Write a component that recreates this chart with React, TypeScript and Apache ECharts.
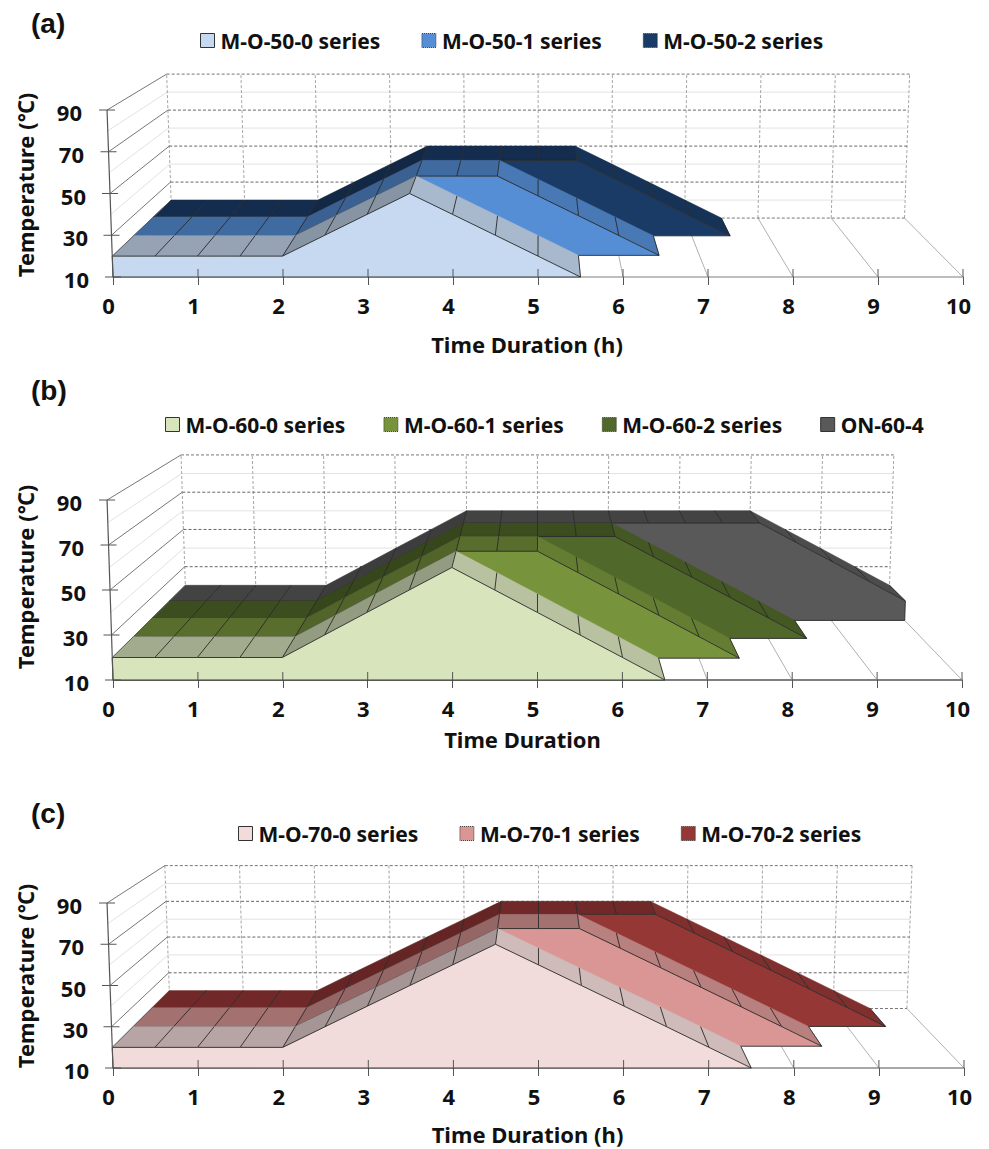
import React, { useEffect, useRef } from "react";
import * as echarts from "echarts";

const xTicks = [0, 1, 2, 3, 4, 5, 6, 7, 8, 9, 10];
const yTicks = [10, 30, 50, 70, 90];
const yMinor = [20, 40, 60, 80];

const timesA0 = [0, 0.5, 1, 1.5, 2, 2.5, 3, 3.5, 4, 4.5, 5, 5.5];
const valuesA0 = [20, 20, 20, 20, 20, 30, 40, 50, 40, 30, 20, 10];
const timesA1 = [0, 0.5, 1, 1.5, 2, 2.5, 3, 3.5, 4, 4.5, 5, 5.5, 6, 6.5];
const valuesA1 = [20, 20, 20, 20, 20, 30, 40, 50, 50, 50, 40, 30, 20, 10];
const timesA2 = [0, 0.5, 1, 1.5, 2, 2.5, 3, 3.5, 4, 4.5, 5, 5.5, 6, 6.5, 7, 7.5];
const valuesA2 = [20, 20, 20, 20, 20, 30, 40, 50, 50, 50, 50, 50, 40, 30, 20, 10];

const timesB0 = [0, 0.5, 1, 1.5, 2, 2.5, 3, 3.5, 4, 4.5, 5, 5.5, 6, 6.5];
const valuesB0 = [20, 20, 20, 20, 20, 30, 40, 50, 60, 50, 40, 30, 20, 10];
const timesB1 = [0, 0.5, 1, 1.5, 2, 2.5, 3, 3.5, 4, 4.5, 5, 5.5, 6, 6.5, 7, 7.5];
const valuesB1 = [20, 20, 20, 20, 20, 30, 40, 50, 60, 60, 60, 50, 40, 30, 20, 10];
const timesB2 = [0, 0.5, 1, 1.5, 2, 2.5, 3, 3.5, 4, 4.5, 5, 5.5, 6, 6.5, 7, 7.5, 8, 8.5];
const valuesB2 = [20, 20, 20, 20, 20, 30, 40, 50, 60, 60, 60, 60, 60, 50, 40, 30, 20, 10];
const timesB3 = [0, 0.5, 1, 1.5, 2, 2.5, 3, 3.5, 4, 4.5, 5, 5.5, 6, 6.5, 7, 7.5, 8, 8.5, 9, 9.5, 10];
const valuesB3 = [20, 20, 20, 20, 20, 30, 40, 50, 60, 60, 60, 60, 60, 60, 60, 60, 60, 50, 40, 30, 20];

const timesC0 = [0, 0.5, 1, 1.5, 2, 2.5, 3, 3.5, 4, 4.5, 5, 5.5, 6, 6.5, 7, 7.5];
const valuesC0 = [20, 20, 20, 20, 20, 30, 40, 50, 60, 70, 60, 50, 40, 30, 20, 10];
const timesC1 = [0, 0.5, 1, 1.5, 2, 2.5, 3, 3.5, 4, 4.5, 5, 5.5, 6, 6.5, 7, 7.5, 8, 8.5];
const valuesC1 = [20, 20, 20, 20, 20, 30, 40, 50, 60, 70, 70, 70, 60, 50, 40, 30, 20, 10];
const timesC2 = [0, 0.5, 1, 1.5, 2, 2.5, 3, 3.5, 4, 4.5, 5, 5.5, 6, 6.5, 7, 7.5, 8, 8.5, 9, 9.5];
const valuesC2 = [20, 20, 20, 20, 20, 30, 40, 50, 60, 70, 70, 70, 70, 70, 60, 50, 40, 30, 20, 10];

type Layer = { name: string; times: number[]; values: number[]; color: string; dotted: boolean };
type Panel = {
  tag: string; tagTop: number; xName: string; xGap: number;
  grid: { left: number; top: number; width: number; height: number };
  view: { vx: number; vy: number; back: number };
  legend: { left: number; top: number; gap: number };
  axisColor: string; namePadX: number[]; namePadY: number[];
  layers: Layer[];
};

const panels: Panel[] = [
  {
    tag: "(a)", tagTop: 9, xName: "Time Duration (h)", xGap: 56,
    grid: { left: 113, top: 110, width: 850, height: 167 },
    view: { vx: 539, vy: -150, back: 0.862 },
    legend: { left: 200, top: 30, gap: 41 },
    axisColor: "#a8a8a8", namePadX: [0, 22, 0, 0], namePadY: [0, 0, 0, 17],
    layers: [
      { name: "M-O-50-0 series", times: timesA0, values: valuesA0, color: "#C6D9F1", dotted: false },
      { name: "M-O-50-1 series", times: timesA1, values: valuesA1, color: "#558ED5", dotted: true },
      { name: "M-O-50-2 series", times: timesA2, values: valuesA2, color: "#1A3B66", dotted: true },
    ],
  },
  {
    tag: "(b)", tagTop: 376, xName: "Time Duration", xGap: 48,
    grid: { left: 113, top: 500, width: 849, height: 180 },
    view: { vx: 537, vy: 238, back: 0.828 },
    legend: { left: 165, top: 414, gap: 38 },
    axisColor: "#555555", namePadX: [0, 30, 0, 0], namePadY: [0, 0, 0, 26],
    layers: [
      { name: "M-O-60-0 series", times: timesB0, values: valuesB0, color: "#D8E4BC", dotted: false },
      { name: "M-O-60-1 series", times: timesB1, values: valuesB1, color: "#77933C", dotted: true },
      { name: "M-O-60-2 series", times: timesB2, values: valuesB2, color: "#506829", dotted: true },
      { name: "ON-60-4", times: timesB3, values: valuesB3, color: "#595959", dotted: false },
    ],
  },
  {
    tag: "(c)", tagTop: 799, xName: "Time Duration (h)", xGap: 55,
    grid: { left: 113, top: 903, width: 851, height: 165 },
    view: { vx: 538, vy: 624, back: 0.866 },
    legend: { left: 238, top: 823, gap: 41 },
    axisColor: "#8c8c8c", namePadX: [0, 22, 0, 0], namePadY: [0, 0, 0, 19],
    layers: [
      { name: "M-O-70-0 series", times: timesC0, values: valuesC0, color: "#F2DCDB", dotted: false },
      { name: "M-O-70-1 series", times: timesC1, values: valuesC1, color: "#D99694", dotted: true },
      { name: "M-O-70-2 series", times: timesC2, values: valuesC2, color: "#953735", dotted: true },
    ],
  },
];

const FONT = "Noto Sans";
const TILT = 0.014;

function shade(hex: string, f: number) {
  const n = parseInt(hex.slice(1), 16);
  const c = [(n >> 16) & 255, (n >> 8) & 255, n & 255].map((v) => Math.round(v * f));
  return `rgb(${c[0]},${c[1]},${c[2]})`;
}

function depthScale(back: number, d: number, n: number) {
  return 1 / (1 + (1 / back - 1) * (d / n));
}

function projector(api: any, view: Panel["view"]) {
  return (t: number, v: number, s: number) => {
    const c = api.coord([t, v]);
    const f = 1 + (TILT * (v - 10)) / 80;
    return [view.vx + (c[0] - view.vx) * f * s, view.vy + (c[1] - view.vy) * s];
  };
}

const seg = (a: number[], b: number[], stroke: string, lineWidth = 1, lineDash?: number[]) => ({
  type: "line",
  shape: { x1: a[0], y1: a[1], x2: b[0], y2: b[1] },
  style: { stroke, lineWidth, fill: "none", lineDash },
  silent: true,
});

function wallSeries(p: Panel, i: number) {
  return {
    type: "custom", name: `wall-${p.tag}`, xAxisIndex: i, yAxisIndex: i, z: 1, silent: true,
    data: [[0, 10]],
    renderItem: (_: any, api: any) => {
      const P = projector(api, p.view);
      const b = p.view.back;
      const out: any[] = [];
      yMinor.forEach((v) => {
        out.push(seg(P(0, v, 1), P(0, v, b), "#e2e2e2", 1));
        out.push(seg(P(0, v, b), P(10, v, b), "#e2e2e2", 1));
      });
      xTicks.forEach((t) => {
        out.push(seg(P(t, 10, b), P(t, 90, b), "#a6a6a6", 1, [3, 2]));
        out.push(seg(P(t, 10, 1), P(t, 10, b), "#b0b0b0", 1));
      });
      yTicks.forEach((v) => {
        out.push(seg(P(0, v, b), P(10, v, b), v === 90 || v === 10 ? "#777777" : "#666666", 1, [3, 2]));
        out.push(seg(P(0, v, 1), P(0, v, b), "#777777", 1));
      });
      return { type: "group", children: out };
    },
  };
}

function layerSeries(p: Panel, i: number, layer: Layer, idx: number) {
  const n = p.layers.length;
  const s0 = depthScale(p.view.back, idx, n);
  const s1 = depthScale(p.view.back, idx + 1, n);
  const { times, values, color } = layer;
  return {
    type: "custom", name: layer.name, xAxisIndex: i, yAxisIndex: i, z: 2 + (n - idx), silent: true,
    itemStyle: { color },
    data: times.map((t, k) => [t, values[k]]),
    renderItem: (params: any, api: any) => {
      const P = projector(api, p.view);
      const k = params.dataIndex;
      const out: any[] = [];
      if (k < times.length - 1) {
        const a = values[k];
        const b = values[k + 1];
        const f = b > a ? 0.68 : b < a ? 0.85 : 0.75;
        const fill = shade(color, f);
        out.push({
          type: "polygon",
          shape: {
            points: [P(times[k], a, s0), P(times[k + 1], b, s0), P(times[k + 1], b, s1), P(times[k], a, s1)],
          },
          style: { fill, stroke: fill, lineWidth: 0.6 },
          silent: true,
        });
      }
      if (k > 0) out.push(seg(P(times[k], values[k], s0), P(times[k], values[k], s1), "#2a2a2a", 0.9));
      if (k === 0) {
        out.push(seg(P(times[0], values[0], s0), P(times[0], values[0], s1), "#555555", 0.9));
      }
      if (k === times.length - 1) {
        const pts = times.map((t, j) => P(t, values[j], s0));
        pts.push(P(times[k], 10, s0), P(0, 10, s0));
        out.push({
          type: "polygon",
          shape: { points: pts },
          style: { fill: color, stroke: "#2a2a2a", lineWidth: 0.9 },
          silent: true,
        });
      }
      return { type: "group", children: out };
    },
  };
}

function overlaySeries(p: Panel, i: number) {
  return {
    type: "custom", name: `frame-${p.tag}`, xAxisIndex: i, yAxisIndex: i, z: 20, silent: true,
    data: [[0, 10]],
    renderItem: (_: any, api: any) => {
      const P = projector(api, p.view);
      const out: any[] = [seg(P(0, 10, 1), P(0, 90, 1), "#555555", 1.2)];
      yTicks.forEach((v) => {
        const c = P(0, v, 1);
        out.push(seg([c[0] - 8, c[1]], [c[0] + 8, c[1]], "#555555", 1));
      });
      xTicks.slice(1).forEach((t) => {
        const c = P(t, 10, 1);
        out.push(seg([c[0], c[1] - 8], c, "#555555", 1));
      });
      return { type: "group", children: out };
    },
  };
}

function buildOption() {
  const text = { fontFamily: FONT, fontWeight: "bold" as const, color: "#111111" };
  const rich: any = {};
  const pad: Record<number, number> = { 90: 7, 70: 5, 50: 3, 30: 1, 10: 0 };
  yTicks.forEach((v) => {
    rich[`t${v}`] = { ...text, fontSize: 22, padding: [4, pad[v], 0, 0] };
  });
  return {
    animation: false,
    backgroundColor: "#ffffff",
    title: panels.map((p) => ({
      text: p.tag, left: 31, top: p.tagTop, padding: 0,
      textStyle: { fontFamily: "Liberation Sans", fontWeight: "bold", fontSize: 28, color: "#111111" },
    })),
    legend: panels.map((p) => ({
      left: p.legend.left, top: p.legend.top, padding: 0, orient: "horizontal",
      itemWidth: 14, itemHeight: 14, itemGap: p.legend.gap, selectedMode: false,
      textStyle: { ...text, fontSize: 21, padding: [0, 0, 0, 1] },
      data: p.layers.map((l) => ({
        name: l.name, icon: "rect",
        itemStyle: {
          color: l.color, borderColor: "#333333", borderWidth: 1,
          borderType: l.dotted ? "dotted" : "solid",
        },
      })),
    })),
    grid: panels.map((p) => ({ ...p.grid, containLabel: false, outerBoundsMode: "none" })),
    xAxis: panels.map((p, i) => ({
      type: "value", gridIndex: i, min: 0, max: 10, interval: 1,
      name: p.xName, nameLocation: "middle", nameGap: p.xGap,
      nameTextStyle: { ...text, fontSize: 22, padding: p.namePadX },
      axisLine: { show: true, lineStyle: { color: p.axisColor, width: 1.5 } },
      axisTick: { show: true, length: 8, lineStyle: { color: "#555555", width: 1 } },
      axisLabel: { ...text, fontSize: 22, margin: 17, padding: [0, 9, 0, 0] },
      splitLine: { show: false },
    })),
    yAxis: panels.map((p, i) => ({
      type: "value", gridIndex: i, min: 10, max: 90, interval: 10,
      name: "Temperature (℃)", nameLocation: "middle", nameGap: 77, nameRotate: 90,
      nameTextStyle: { ...text, fontSize: 22, padding: p.namePadY },
      axisLine: { show: false },
      axisTick: { show: false },
      axisLabel: {
        margin: 24, rich,
        formatter: (v: number) => (yTicks.includes(v) ? `{t${v}|${v}}` : ""),
      },
      splitLine: { show: false },
    })),
    series: panels.flatMap((p, i) => [
      wallSeries(p, i),
      ...p.layers.map((l, idx) => layerSeries(p, i, l, idx)),
      overlaySeries(p, i),
    ]),
  };
}

export default function App() {
  const ref = useRef<HTMLDivElement>(null);
  useEffect(() => {
    const chart = echarts.init(ref.current!, undefined, { renderer: "svg" });
    chart.setOption(buildOption() as any);
    return () => chart.dispose();
  }, []);
  return <div ref={ref} style={{ position: "absolute", left: 0, top: 0, width: 989, height: 1149 }} />;
}
